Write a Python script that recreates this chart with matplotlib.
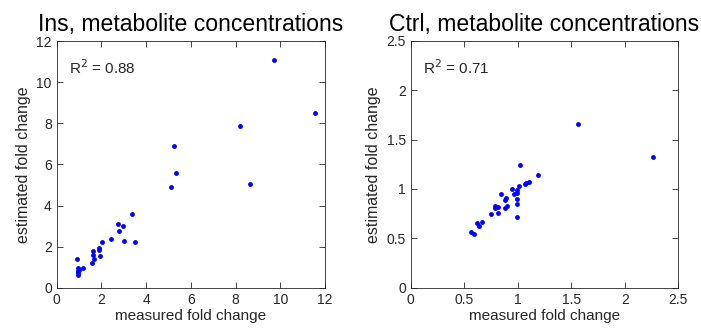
import matplotlib.pyplot as plt

plt.rcParams['font.family'] = ['Liberation Sans', 'DejaVu Sans']

ins_measured = [9.73, 11.55, 8.18, 8.63, 5.23, 5.35, 5.11, 3.37, 2.73, 2.98, 2.79,
                2.43, 2.04, 3.03, 3.50, 1.89, 1.89, 1.62, 1.62, 1.92, 1.68, 1.56,
                0.89, 1.19, 0.97, 0.97, 0.97, 0.97, 1.00, 0.95]
ins_estimated = [11.10, 8.52, 7.89, 5.06, 6.92, 5.58, 4.89, 3.60, 3.12, 3.02, 2.78,
                 2.37, 2.21, 2.26, 2.24, 1.95, 1.82, 1.79, 1.61, 1.56, 1.40, 1.22,
                 1.40, 0.96, 0.96, 0.83, 0.70, 0.63, 0.88, 0.75]

ctrl_measured = [1.563, 2.26, 1.021, 1.186, 1.105, 1.074, 1.065, 1.015, 0.996, 0.996,
                 0.943, 0.965, 0.847, 0.894, 0.878, 0.996, 0.996, 0.900, 0.884, 0.791,
                 0.813, 0.785, 0.747, 0.813, 0.996, 0.666, 0.620, 0.635, 0.564, 0.588]
ctrl_estimated = [1.653, 1.322, 1.238, 1.140, 1.069, 1.062, 1.049, 1.029, 0.988, 0.958,
                  0.995, 0.944, 0.948, 0.907, 0.890, 0.897, 0.847, 0.826, 0.809, 0.830,
                  0.813, 0.809, 0.749, 0.752, 0.715, 0.661, 0.658, 0.621, 0.560, 0.543]

fig = plt.figure(figsize=(7.01, 3.31), dpi=100)
ax1 = fig.add_axes([0.0809, 0.1308, 0.3828, 0.7447])
ax2 = fig.add_axes([0.5859, 0.1308, 0.3817, 0.7462])

def style(ax, title, r2):
    ax.set_title(title, fontsize=16.6, color='black', pad=7)
    ax.set_xlabel('measured fold change', fontsize=11, color='#262626', labelpad=2)
    ax.set_ylabel('estimated fold change', fontsize=11.5, color='#262626', labelpad=4)
    ax.tick_params(direction='in', top=True, right=True, labelsize=10,
                   colors='#262626', length=4, width=0.6)
    for s in ax.spines.values():
        s.set_color('#262626')
        s.set_linewidth(0.6)
    ax.text(0.047, 0.93, r2, transform=ax.transAxes, fontsize=11,
            color='#262626', va='top', ha='left')

ax1.plot(ins_measured, ins_estimated, 'o', color='#0000ff', markersize=3.5,
         markeredgewidth=0)
ax1.set_xlim(0, 12)
ax1.set_ylim(0, 12)
ax1.set_xticks(range(0, 13, 2))
ax1.set_yticks(range(0, 13, 2))
style(ax1, 'Ins, metabolite concentrations', r'R$^2$ = 0.88')

ax2.plot(ctrl_measured, ctrl_estimated, 'o', color='#0000ff', markersize=3.5,
         markeredgewidth=0)
ax2.set_xlim(0, 2.5)
ax2.set_ylim(0, 2.5)
ax2.set_xticks([0, 0.5, 1, 1.5, 2, 2.5])
ax2.set_xticklabels(['0', '0.5', '1', '1.5', '2', '2.5'])
ax2.set_yticks([0, 0.5, 1, 1.5, 2, 2.5])
ax2.set_yticklabels(['0', '0.5', '1', '1.5', '2', '2.5'])
style(ax2, 'Ctrl, metabolite concentrations', r'R$^2$ = 0.71')

fig.savefig('out.png', dpi=100)
